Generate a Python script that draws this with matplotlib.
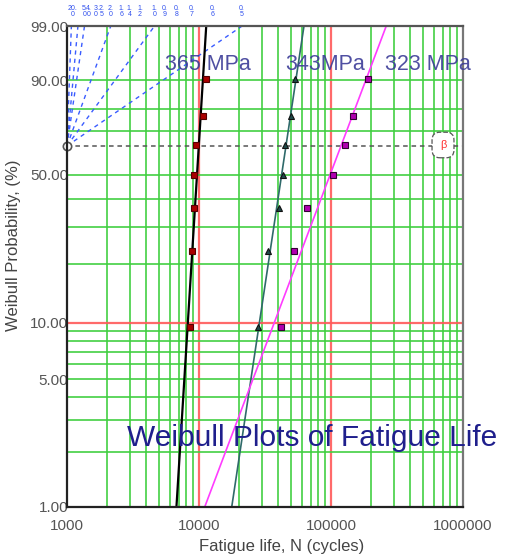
import numpy as np
import matplotlib
matplotlib.use('Agg')
import matplotlib.pyplot as plt
import matplotlib.transforms as mtransforms

plt.rcParams['font.family'] = ['Liberation Sans', 'DejaVu Sans']

# median ranks (%) for 7 specimens
ranks = [9.46, 22.97, 36.49, 50.0, 63.51, 77.03, 90.54]

# fatigue lives (cycles)
life_365 = [8550, 8810, 9160, 9200, 9480, 10660, 11250]
life_343 = [28100, 33500, 40600, 43500, 44900, 49500, 53300]
life_323 = [41600, 52700, 65500, 104000, 127700, 147600, 191800]

# shape parameter guide lines and labels (top left)
beta_lines = [20, 8, 5, 2, 1, 0.5]
beta_labels = [20, 5, 4, 3, 2.5, 2, 1.6, 1.4, 1.2, 1, 0.9, 0.8, 0.7, 0.6, 0.5]

y_ticks = [1, 5, 10, 50, 90, 99]
x_ticks = [1000, 10000, 100000, 1000000]


def fwd(p):
    p = np.clip(np.asarray(p, dtype=float), 1e-6, 100 - 1e-6)
    return np.log(-np.log(1 - p / 100.0))


def inv(u):
    return 100.0 * (1 - np.exp(-np.exp(u)))


fig = plt.figure(figsize=(5.07, 5.59), dpi=100)
ax = fig.add_axes([67/507, 1-507/559, 396/507, 481/559])
ax.set_xscale('log')
ax.set_yscale('function', functions=(fwd, inv))
ax.set_xlim(1000, 1000000)
ax.set_ylim(1, 99)

# grid
green = '#3fcf3f'
red = '#ff5a5a'
for d in (3, 4, 5):
    for k in range(2, 10):
        ax.axvline(k * 10**d, color=green, lw=1.3, alpha=0.9, zorder=1)
for v in (10000, 100000):
    ax.axvline(v, color=red, lw=1.6, alpha=0.9, zorder=1)
for p in [2, 3, 4, 5, 6, 7, 8, 9, 20, 30, 40, 50, 70, 80, 90]:
    ax.axhline(p, color=green, lw=1.3, alpha=0.9, zorder=1)
ax.axhline(10, color=red, lw=1.6, alpha=0.9, zorder=1)

p632 = inv(0.0)
ax.axhline(p632, color='#555555', lw=1.1, ls=(0, (3, 2.5)), zorder=2)

# shape guide lines from the pivot
u_top = fwd(99)
for b in beta_lines:
    xt = 1000 * np.exp(u_top / b)
    ax.plot([1000, xt], [p632, 99], color='#3a5cff', lw=1.0, ls=(0, (3, 3)), zorder=2)
ax.plot([1000], [p632], 'o', ms=6, mfc='white', mec='#555555', mew=1.2, zorder=6, clip_on=False)

trans = mtransforms.blended_transform_factory(ax.transData, ax.transAxes)
for b in beta_labels:
    xt = 1000 * np.exp(u_top / b)
    s = f'{b:.1f}'.replace('.', '.\n')
    ax.text(xt + (0.02 * xt if b == 20 else 0), 1.016, s, transform=trans, fontsize=5,
            color='#3050ee', ha='center', va='bottom', linespacing=0.95, clip_on=False)

# data + rank regression lines
series = [
    (life_365, 'black', 1.6, 's', '#aa0000', '#550000', 3.8),
    (life_343, '#2f6a6a', 1.2, '^', '#1e4a4a', '#111111', 5.0),
    (life_323, '#ff3cff', 1.2, 's', '#b000b0', '#330033', 4.2),
]
pend = np.array([1.0, 99.0])
for life, lc, lw, mk, mfc, mec, ms in series:
    slope, icpt = np.polyfit(fwd(ranks), np.log(life), 1)
    xs = np.exp(icpt + slope * fwd(pend))
    ax.plot(xs, pend, color=lc, lw=lw, zorder=3)
    ax.plot(life, ranks, ls='none', marker=mk, ms=ms, mfc=mfc, mec=mec, mew=0.8, zorder=4)

# beta box
fig.text(443/507, 1-145/559, 'β', fontsize=8, color='#ff3030', ha='center', va='center',
         bbox=dict(boxstyle='round,pad=0.7', fc='white', ec='#555555', ls='--', lw=0.9), zorder=5)

# ticks
ax.set_yticks(y_ticks)
ax.set_yticklabels([f'{v:.2f}' for v in y_ticks])
ax.set_xticks(x_ticks)
ax.set_xticklabels([str(v) for v in x_ticks])
ax.yaxis.set_minor_locator(matplotlib.ticker.NullLocator())
ax.xaxis.set_minor_locator(matplotlib.ticker.NullLocator())
ax.tick_params(axis='y', length=0, pad=-1, labelsize=11, labelcolor='#555555')
ax.tick_params(axis='x', length=0, pad=9, labelsize=11, labelcolor='#555555')

for side, c in (('left', '#222222'), ('bottom', '#222222'), ('top', '#555555'), ('right', '#777777')):
    ax.spines[side].set_color(c)
    ax.spines[side].set_linewidth(1.6)
    ax.spines[side].set_zorder(7)

# texts
lab_c = '#3c3c98'
fig.text(208/507, 1-64/559, '365 MPa', fontsize=15.5, color=lab_c, ha='center', va='center', alpha=0.9)
fig.text(325/507, 1-64/559, '343MPa', fontsize=15.5, color=lab_c, ha='center', va='center', alpha=0.9)
fig.text(428/507, 1-64/559, '323 MPa', fontsize=15.5, color=lab_c, ha='center', va='center', alpha=0.9)
fig.text(312/507, 1-438/559, 'Weibull Plots of Fatigue Life', fontsize=21.5, color='#1f1f8c',
         ha='center', va='center')

fig.text(14/507, 1-245/559, 'Weibull Probability, (%)', rotation=90, fontsize=12,
         color='#444444', ha='center', va='center')
fig.text(282/507, 1-547/559, 'Fatigue life, N (cycles)', fontsize=12,
         color='#444444', ha='center', va='center')

fig.savefig('out.png', dpi=100)
